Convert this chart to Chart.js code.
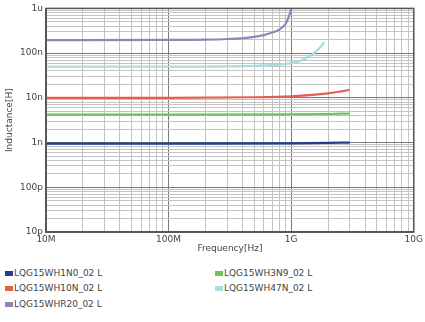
<!DOCTYPE html>
<html>
<head>
<meta charset="utf-8">
<script src="https://cdn.jsdelivr.net/npm/chart.js@4.4.0/dist/chart.umd.min.js"></script>
<style>
  body { margin: 0; background: #fff; font-family: "DejaVu Sans", sans-serif; }
  #wrap { position: relative; width: 425px; height: 262px; }
  #legend { position: relative; width: 425px; height: 60px; font-size: 9px; color: #444; }
  .item { position: absolute; white-space: nowrap; }
  .box { display: inline-block; width: 8px; height: 5px; margin-right: 1px; vertical-align: middle; }
</style>
</head>
<body>
<div id="wrap"><canvas id="chart"></canvas></div>
<div id="legend"></div>
<script>
// nama seri dan warna
var seriesNames = ['LQG15WH1N0_02 L', 'LQG15WH10N_02 L', 'LQG15WHR20_02 L', 'LQG15WH3N9_02 L', 'LQG15WH47N_02 L'];
var seriesColors = ['#1f3f8f', '#e2604f', '#9483bb', '#6fc35a', '#a9dcdc'];

// frekuensi [Hz] dan induktansi [H]
var freqBlue = [1e7, 1e8, 1e9, 2e9, 3e9];
var indBlue = [0.95e-9, 0.95e-9, 0.96e-9, 0.98e-9, 1.0e-9];
var freqRed = [1e7, 1e8, 5e8, 1e9, 1.5e9, 2e9, 2.5e9, 3e9];
var indRed = [10e-9, 10e-9, 10.3e-9, 10.8e-9, 11.6e-9, 12.6e-9, 13.8e-9, 15e-9];
var freqPurple = [1e7, 1e8, 2e8, 3e8, 4.5e8, 6e8, 7e8, 8e8, 9e8, 9.5e8, 1e9];
var indPurple = [195e-9, 197e-9, 200e-9, 207e-9, 222e-9, 252e-9, 288e-9, 335e-9, 450e-9, 620e-9, 950e-9];
var freqGreen = [1e7, 1e8, 1e9, 2e9, 3e9];
var indGreen = [4.2e-9, 4.2e-9, 4.25e-9, 4.35e-9, 4.45e-9];
var freqCyan = [1e7, 1e8, 5e8, 1e9, 1.2e9, 1.4e9, 1.6e9, 1.75e9, 1.86e9];
var indCyan = [50e-9, 50e-9, 52e-9, 60e-9, 68e-9, 85e-9, 110e-9, 140e-9, 175e-9];

// label sumbu
var xTicks = [1e7, 1e8, 1e9, 1e10];
var xTickLabels = ['10M', '100M', '1G', '10G'];
var yTicks = [1e-11, 1e-10, 1e-9, 1e-8, 1e-7, 1e-6];
var yTickLabels = ['10p', '100p', '1n', '10n', '100n', '1u'];
var minorSteps = [2, 3, 4, 5, 6, 7, 8, 9];

function toPoints(xs, ys) {
    var pts = [];
    xs.forEach(function(x, i) { pts.push({x: x, y: ys[i]}); });
    return pts;
}

// tick mayor + minor per dekade
function buildTicks(decades) {
    var ticks = [];
    decades.forEach(function(d, i) {
        ticks.push({value: d, major: true});
        if (i < decades.length - 1) {
            minorSteps.forEach(function(m) { ticks.push({value: d * m, major: false}); });
        }
    });
    return ticks;
}

function labelOf(ticksArr, labels, v) {
    for (var i = 0; i < ticksArr.length; i++) {
        if (Math.abs(Math.log10(v) - Math.log10(ticksArr[i])) < 1e-6) return labels[i];
    }
    return '';
}

var allX = [freqBlue, freqRed, freqPurple, freqGreen, freqCyan];
var allY = [indBlue, indRed, indPurple, indGreen, indCyan];

var datasets = [];
seriesNames.forEach(function(name, i) {
    datasets.push({
        label: name,
        data: toPoints(allX[i], allY[i]),
        borderColor: seriesColors[i],
        backgroundColor: seriesColors[i],
        borderWidth: 2.2,
        pointRadius: 0,
        cubicInterpolationMode: 'monotone'
    });
});

var gridColor = function(ctx) {
    return ctx.tick && ctx.tick.major ? '#7a7a7a' : '#c4c4c4';
};

var ctx = document.getElementById('chart').getContext('2d');
var chart = new Chart(ctx, {
    type: 'line',
    data: { datasets: datasets },
    options: {
        responsive: true,
        maintainAspectRatio: false,
        animation: false,
        layout: { padding: { top: 7, right: 9, left: 4, bottom: 8 } },
        plugins: { legend: { display: false }, tooltip: { enabled: false } },
        scales: {
            x: {
                type: 'logarithmic',
                min: 1e7, max: 1e10,
                afterBuildTicks: function(s) { s.ticks = buildTicks(xTicks); },
                afterFit: function(s) { s.height = 22; },
                ticks: {
                    autoSkip: false, maxRotation: 0, padding: 2,
                    font: { size: 9, family: 'DejaVu Sans' }, color: '#444',
                    callback: function(v) { return labelOf(xTicks, xTickLabels, v); }
                },
                grid: { color: gridColor, drawTicks: false },
                border: { color: '#555', width: 1.5 },
                title: { display: true, text: 'Frequency[Hz]', font: { size: 9, family: 'DejaVu Sans' }, color: '#444', padding: 0 }
            },
            y: {
                type: 'logarithmic',
                min: 1e-11, max: 1e-6,
                afterBuildTicks: function(s) { s.ticks = buildTicks(yTicks); },
                afterFit: function(s) { s.width = 42; },
                ticks: {
                    autoSkip: false, padding: 3,
                    font: { size: 9, family: 'DejaVu Sans' }, color: '#444',
                    callback: function(v) { return labelOf(yTicks, yTickLabels, v); }
                },
                grid: { color: gridColor, drawTicks: false },
                border: { color: '#555', width: 1.5 },
                title: { display: true, text: 'Inductance[H]', font: { size: 9, family: 'DejaVu Sans' }, color: '#444', padding: 0 }
            }
        }
    },
    plugins: [{
        id: 'frame',
        afterDraw: function(c) {
            var a = c.chartArea, g = c.ctx;
            g.save();
            g.strokeStyle = '#555';
            g.lineWidth = 1.5;
            g.strokeRect(a.left, a.top, a.right - a.left, a.bottom - a.top);
            g.restore();
        }
    }]
});

// legenda dua kolom di bawah grafik
var legendPos = [[5, 6], [5, 21], [5, 37], [215, 6], [215, 21]];
var legend = document.getElementById('legend');
seriesNames.forEach(function(name, i) {
    var el = document.createElement('div');
    el.className = 'item';
    el.style.left = legendPos[i][0] + 'px';
    el.style.top = legendPos[i][1] + 'px';
    el.innerHTML = '<span class="box" style="background:' + seriesColors[i] + '"></span>' + name;
    legend.appendChild(el);
});
</script>
</body>
</html>
